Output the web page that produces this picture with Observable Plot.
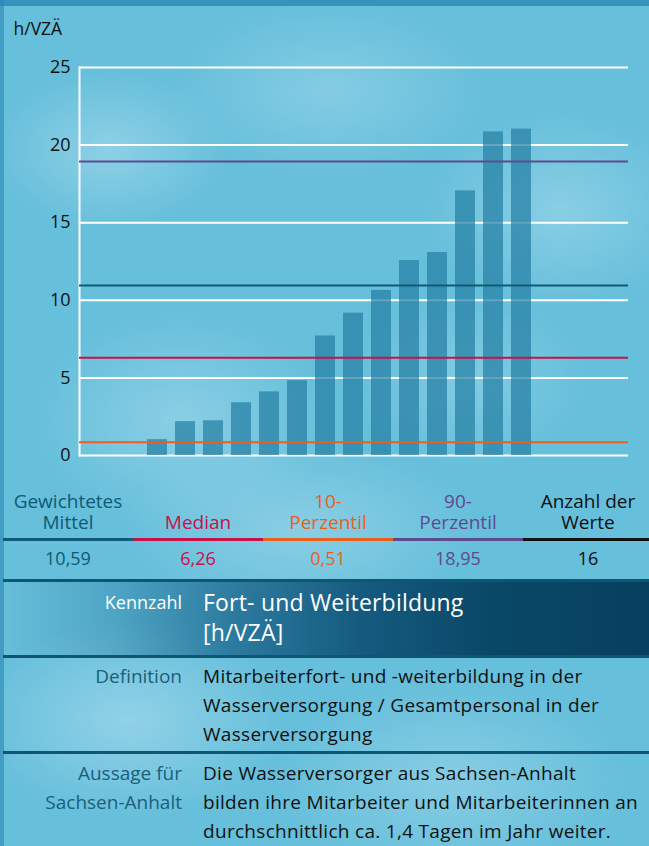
<!DOCTYPE html>
<html><head><meta charset="utf-8">
<script src="https://cdn.jsdelivr.net/npm/d3@7"></script>
<script src="https://cdn.jsdelivr.net/npm/@observablehq/plot@0.6"></script>
<style>
html,body{margin:0;padding:0;}
body{width:649px;height:846px;overflow:hidden;font-family:"Open Sans",Roboto,sans-serif;}
#page{position:relative;width:649px;height:846px;overflow:hidden;
 background:
  radial-gradient(ellipse 120px 80px at 110px 150px, rgba(175,222,238,0.55), transparent),
  radial-gradient(ellipse 160px 90px at 330px 90px, rgba(170,220,238,0.45), transparent),
  radial-gradient(ellipse 140px 100px at 560px 210px, rgba(180,225,240,0.45), transparent),
  radial-gradient(ellipse 150px 110px at 180px 420px, rgba(175,222,238,0.5), transparent),
  radial-gradient(ellipse 120px 90px at 470px 380px, rgba(170,220,238,0.4), transparent),
  radial-gradient(ellipse 180px 90px at 300px 530px, rgba(175,222,238,0.5), transparent),
  radial-gradient(ellipse 160px 100px at 130px 720px, rgba(180,225,240,0.55), transparent),
  radial-gradient(ellipse 180px 100px at 450px 780px, rgba(175,222,238,0.45), transparent),
  #66bfdb;}
#chart{position:absolute;left:0;top:0;}
.edgeTop{position:absolute;left:0;top:0;width:649px;height:6px;background:rgba(40,135,180,0.8);}
.edgeLeft{position:absolute;left:0;top:0;width:4px;height:846px;background:rgba(40,135,180,0.6);}
.abs{position:absolute;}
.leg{position:absolute;top:480px;height:53px;width:130px;display:flex;align-items:flex-end;justify-content:center;text-align:center;font-size:19px;line-height:21px;white-space:pre-line;}
.legline{position:absolute;top:538px;height:3px;width:130px;}
.legval{position:absolute;top:546px;width:130px;text-align:center;font-size:18px;line-height:24px;}
.divider{position:absolute;left:3px;width:646px;height:3px;background:#0f5672;}
.lab{position:absolute;left:0;width:182px;text-align:right;color:#1a5f7b;font-size:19px;line-height:29px;white-space:pre-line;}
.txt{position:absolute;left:203px;width:446px;color:#111;font-size:19px;letter-spacing:0.3px;line-height:29px;white-space:pre;}
</style></head>
<body><div id="page"><div class="edgeTop"></div><div class="edgeLeft"></div><div id="chart"></div></div>
<script>
// ---- data ----
const slots = d3.range(1, 20).map(String);          // band slots on the x axis
const values = [0, 0, 1.02, 2.18, 2.24, 3.40, 4.10, 4.82, 7.70, 9.17, 10.64, 12.56, 13.08, 17.05, 20.85, 21.03];
const yTicks = [0, 5, 10, 15, 20, 25];
const unitLabel = "h/VZÄ";
const refNames  = ["Gewichtetes\nMittel", "Median", "10-\nPerzentil", "90-\nPerzentil", "Anzahl der\nWerte"];
const refValues = ["10,59", "6,26", "0,51", "18,95", "16"];
const refColors = ["#0f5a74", "#c8104a", "#e8601c", "#5e4a8e", "#111111"];
const refLineLevels = [10.95, 6.3, 0.85, 18.95];   // as drawn in the picture
const rowLabels = ["Kennzahl", "Definition", "Aussage für\nSachsen-Anhalt"];
const rowTexts = [
  "Fort- und Weiterbildung\n[h/VZÄ]",
  "Mitarbeiterfort- und -weiterbildung in der\nWasserversorgung / Gesamtpersonal in der\nWasserversorgung",
  "Die Wasserversorger aus Sachsen-Anhalt\nbilden ihre Mitarbeiter und Mitarbeiterinnen an\ndurchschnittlich ca. 1,4 Tagen im Jahr weiter."
];

const bars = values.map((v, i) => ({slot: slots[i], value: v}));
const refLines = refLineLevels.map((v, i) => ({value: v, color: refColors[i]}));

const chart = Plot.plot({
  width: 649, height: 470,
  marginLeft: 79, marginRight: 21, marginTop: 67, marginBottom: 15,
  style: {background: "transparent", fontFamily: "'Open Sans', sans-serif", color: "#111"},
  x: {domain: slots, padding: 0.27, axis: null},
  y: {domain: [0, 25], axis: null},
  color: {type: "identity"},
  marks: [
    Plot.ruleY(yTicks, {stroke: "white", strokeWidth: 2}),
    Plot.frame({anchor: "left", stroke: "white", strokeWidth: 2}),
    Plot.barY(bars, {x: "slot", y: "value", fill: "#2580a3", fillOpacity: 0.72}),
    Plot.ruleY(refLines, {y: "value", stroke: "color", strokeWidth: 2}),
    Plot.axisY({ticks: yTicks, tickSize: 0, tickPadding: 9, fontSize: 18, label: null}),
    Plot.text([unitLabel], {frameAnchor: "top-left", dx: -66, dy: -33, lineAnchor: "bottom", textAnchor: "start", fontSize: 17.5, fill: "#111"})
  ]
});
document.getElementById("chart").append(chart);

const page = document.getElementById("page");
function el(cls, css, text) {
  const d = document.createElement("div");
  d.className = cls;
  Object.assign(d.style, css);
  if (text != null) d.textContent = text;
  page.append(d);
  return d;
}
refNames.forEach((n, i) => {
  const left = (3 + 130 * i) + "px";
  el("leg", {left, color: refColors[i]}, n);
  el("legline", {left, background: refColors[i]});
  el("legval", {left, color: refColors[i]}, refValues[i]);
});
el("divider", {top: "579px"});
// Kennzahl row
el("abs", {left: "3px", top: "582px", width: "646px", height: "73px",
  background: "linear-gradient(90deg, rgba(30,110,150,0) 0%, rgba(30,110,150,0.35) 18%, rgba(20,95,135,0.7) 35%, rgba(12,80,118,0.9) 55%, #0a4868 75%, #07405f 100%)"});
el("lab", {top: "589px", color: "#ffffff", fontSize: "18px", lineHeight: "26px"}, rowLabels[0]);
el("txt", {top: "587px", color: "#ffffff", fontSize: "23px", letterSpacing: "0.2px", lineHeight: "30px"}, rowTexts[0]);
el("divider", {top: "655px"});
el("lab", {top: "662px"}, rowLabels[1]);
el("txt", {top: "662px"}, rowTexts[1]);
el("divider", {top: "751px"});
el("lab", {top: "759px"}, rowLabels[2]);
el("txt", {top: "759px"}, rowTexts[2]);
</script>
</body></html>
